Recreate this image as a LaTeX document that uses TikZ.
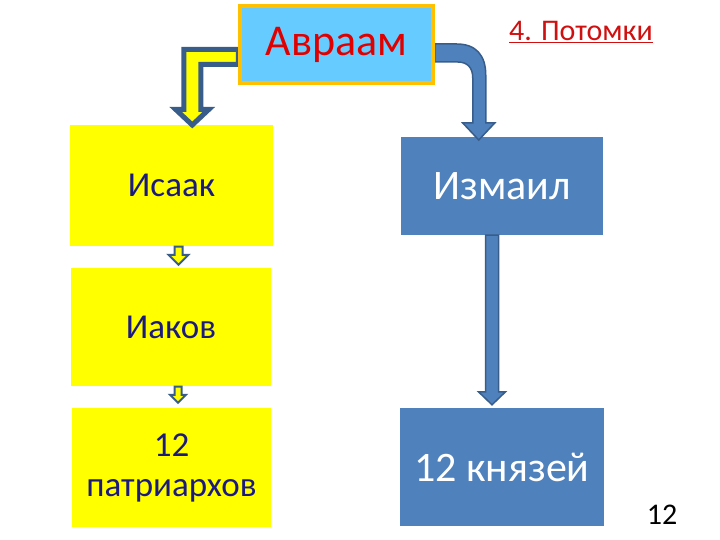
\documentclass[tikz,border=0pt]{standalone}
\usepackage{fontspec}
\setmainfont{Carlito}
\usetikzlibrary{calc}
\definecolor{skyb}{HTML}{66CCFF}
\definecolor{gold}{HTML}{FFC000}
\definecolor{yel}{HTML}{FFFF00}
\definecolor{blu}{HTML}{4F81BD}
\definecolor{dblu}{HTML}{385D8A}
\definecolor{navy}{HTML}{1A1A80}
\definecolor{redt}{HTML}{E00000}
\definecolor{redu}{HTML}{D01010}
\pgfdeclarelayer{front}
\pgfsetlayers{main,front}
\newcommand\fs[1]{\fontsize{#1}{1.15*#1}\selectfont}
\newcommand\blockdown[6]{%
  \path[#6] let \p1=#1, \p2=#2 in
    (\x1-#3,\y1) -- (\x1-#3,\y2+#5) -- (\x1-#4,\y2+#5) -- (\x1,\y2)
    -- (\x1+#4,\y2+#5) -- (\x1+#3,\y2+#5) -- (\x1+#3,\y1) -- cycle;}
\tikzset{
  ybox/.style={fill=yel, text=navy, inner sep=0pt, align=center, font=\fontsize{35}{40}\selectfont},
  bbox/.style={fill=blu, text=white, inner sep=0pt, align=center, font=\fontsize{42}{48}\selectfont},
  yarrow/.style={fill=yel, draw=dblu, line width=2pt, line join=miter},
  barrow/.style={fill=blu, draw=dblu, line width=1.5pt, line join=miter},
}
\begin{document}
\begin{tikzpicture}[x=1pt,y=-1pt]
\useasboundingbox (0,0) rectangle (720,540);
\begin{pgfonlayer}{front}
\node[fill=skyb, draw=gold, line width=3.5pt, minimum width=193pt, minimum height=77pt,
  inner sep=0pt, text=redt, font=\fontsize{44}{50}\selectfont] (abraham) at (336.5,44.5) {Авраам};
\end{pgfonlayer}
\node[text=redu, font=\fontsize{30}{34}\selectfont, inner sep=0pt] (title) at (581,32) {\underline{4. Потомки}};
\node[ybox, minimum width=203pt, minimum height=121pt] (isaak) at (171.5,185.5) {Исаак};
\node[ybox, minimum width=200pt, minimum height=118pt] (iakov) at (171,327) {Иаков};
\node[ybox, minimum width=199pt, minimum height=119pt] (patr) at (171.5,467.5) {12\\патриархов};
\node[bbox, minimum width=202pt, minimum height=98pt] (izmail) at (502,186) {Измаил};
\node[bbox, minimum width=204pt, minimum height=118pt] (knyaz) at (502,467) {12 князей};
\node[font=\fontsize{30}{34}\selectfont, inner sep=0pt] (page) at (662,515) {12};
% left bent arrow
\begin{scope}[shift={(abraham.west)}]
\draw[fill=yel, draw=dblu, line width=5pt, line join=miter]
  (0,5) -- (-54.5,5) -- (-54.5,65) -- (-62.5,65) -- (-46,80.5) -- (-29.5,65)
  -- (-37.5,65) -- (-37.5,20) -- (0,20) -- cycle;
\end{scope}
% right curved arrow
\begin{scope}[shift={(abraham.east)}]
\draw[barrow]
  (0,-0.5) -- (22,-0.5) .. controls (41,-0.5) and (51,10.5) .. (51,30.5)
  -- (51,78.5) -- (60,78.5) -- (44,95.5) -- (28,78.5) -- (38,78.5) -- (38,33.5)
  .. controls (38,23.5) and (33,17.5) .. (23,17.5) -- (0,17.5) -- cycle;
\end{scope}
% small arrows
\blockdown{($(isaak.south)+(7,0.5)$)}{($(iakov.north)+(7.5,-3)$)}{4pt}{10pt}{10pt}{yarrow}
\blockdown{($(iakov.south)+(7,0.5)$)}{($(patr.north)+(6.5,-5)$)}{3.5pt}{8pt}{8pt}{yarrow}
% long arrow
\blockdown{($(izmail.south)+(-10,0)$)}{($(knyaz.north)+(-10,-3)$)}{6.5pt}{13.5pt}{13pt}{barrow}
\end{tikzpicture}
\end{document}
